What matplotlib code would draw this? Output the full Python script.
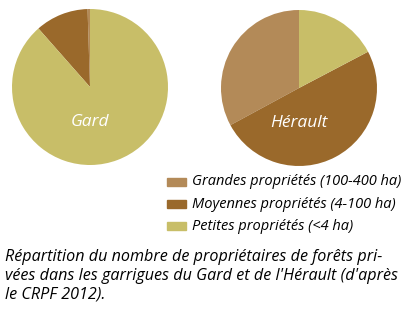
import matplotlib
matplotlib.use('Agg')
import matplotlib.pyplot as plt
from matplotlib.patches import Rectangle

# Categories and shares (%)
categories = ['Grandes propriétés (100-400 ha)',
              'Moyennes propriétés (4-100 ha)',
              'Petites propriétés (<4 ha)']
colors = ['#b38a58', '#9a692b', '#c8be68']
gard = [0.5, 11.0, 88.5]
herault = [32.9, 49.8, 17.3]
regions = ['Gard', 'Hérault']
caption = ("Répartition du nombre de propriétaires de forêts pri-\n"
           "vées dans les garrigues du Gard et de l'Hérault (d'après\n"
           "le CRPF 2012).")

W, H = 401, 315
fig = plt.figure(figsize=(W / 100, H / 100), dpi=100)
plt.rcParams['font.family'] = ['Open Sans', 'DejaVu Sans']


def px_axes(cx, cy, r):
    # axes box in pixel coords (origin top-left)
    return fig.add_axes([(cx - r) / W, (H - cy - r) / H, 2 * r / W, 2 * r / H])


for (cx, cy), vals, name in zip([(90, 87), (299, 88)], [gard, herault], regions):
    ax = px_axes(cx, cy, 78)
    ax.pie(vals, colors=colors, startangle=90, counterclock=True,
           wedgeprops=dict(linewidth=0))
    ax.set_xlim(-1, 1)
    ax.set_ylim(-1, 1)
    ax.text(0, -0.45, name, color='white', fontsize=12.5, style='italic',
            ha='center', va='center')

# legend drawn by hand
for i, (lab, col) in enumerate(zip(categories, colors)):
    y = 182 + i * 22
    fig.patches.append(Rectangle((167 / W, 1 - (y + 4) / H), 19 / W, 8 / H,
                                 transform=fig.transFigure, color=col))
    fig.text(192 / W, 1 - y / H, lab, fontsize=10.5, style='italic',
             va='center', ha='left', color='black')

fig.text(5 / W, 1 - 249 / H, caption, fontsize=11.6, style='italic',
         va='top', ha='left', linespacing=1.22, color='black')

fig.savefig('out.png', dpi=100)
